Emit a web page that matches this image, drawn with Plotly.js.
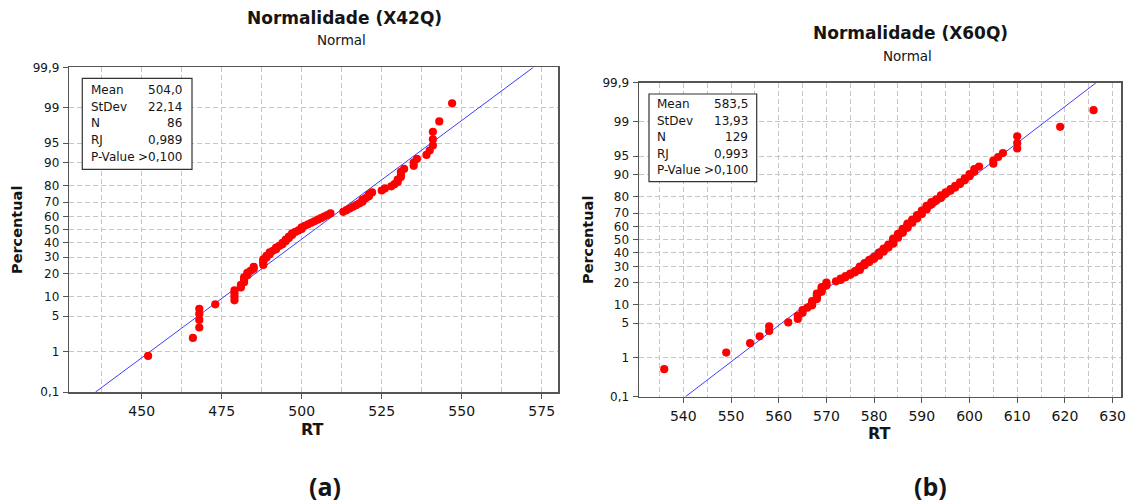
<!DOCTYPE html>
<html>
<head>
<meta charset="utf-8">
<script src="https://cdn.plot.ly/plotly-3.0.1.min.js"></script>
<style>
  html, body { margin: 0; padding: 0; background: #ffffff; }
  #chart { width: 1129px; height: 502px; }
</style>
</head>
<body>
<div id="chart"></div>
<script>
// Sorted RT samples for the two normal probability plots
const RT_X42Q = [
  452, 466, 468, 468, 468, 468, 473, 479, 479, 479,
  479, 481, 481, 482, 482, 482, 483, 483, 484, 485,
  485, 488, 488, 488, 488, 489, 489, 490, 490, 491,
  492, 492, 493, 494, 494, 495, 495, 496, 496, 497,
  497, 498, 499, 500, 500, 501, 502, 503, 504, 505,
  506, 507, 508, 509, 513, 514, 515, 516, 517, 518,
  519, 519, 520, 521, 521, 522, 525, 526, 528, 529,
  530, 530, 531, 531, 531, 532, 535, 535, 536, 539,
  540, 541, 541, 541, 543, 547
];
const RT_X60Q = [
  536, 549, 554, 556, 558, 558, 562, 564, 564, 565,
  565, 566, 567, 567, 567, 568, 568, 568, 568, 569,
  569, 569, 569, 570, 570, 570, 572, 573, 573, 574,
  574, 575, 575, 576, 576, 577, 577, 577, 577, 578,
  578, 578, 579, 579, 579, 580, 580, 580, 581, 581,
  581, 581, 582, 582, 582, 582, 583, 583, 583, 583,
  584, 584, 584, 584, 584, 584, 585, 585, 585, 585,
  585, 586, 586, 586, 586, 586, 587, 587, 587, 587,
  587, 588, 588, 588, 588, 589, 589, 589, 589, 590,
  590, 590, 590, 591, 591, 591, 591, 592, 592, 592,
  593, 593, 594, 594, 594, 595, 595, 596, 596, 597,
  597, 598, 598, 599, 599, 600, 600, 601, 601, 602,
  605, 605, 606, 607, 610, 610, 610, 619, 626
];

// Fitted normal parameters (line drawn through mean + z * sd)
const FIT_MEAN = [504.0, 583.5];
const FIT_SD = [22.14, 13.93];

// Summary box contents
const SUMMARY_LABELS = ['Mean', 'StDev', 'N', 'RJ', 'P-Value'];
const SUMMARY_X42Q = ['504,0', '22,14', '86', '0,989', '>0,100'];
const SUMMARY_X60Q = ['583,5', '13,93', '129', '0,993', '>0,100'];

// Probability-scale ticks (percent)
const PCT_TICKS = [0.1, 1, 5, 10, 20, 30, 40, 50, 60, 70, 80, 90, 95, 99, 99.9];
const PCT_LABELS = ['0,1', '1', '5', '10', '20', '30', '40', '50', '60', '70', '80', '90', '95', '99', '99,9'];

const TITLES = ['Normalidade (X42Q)', 'Normalidade (X60Q)'];
const SUBTITLE = 'Normal';
const PANEL_TAGS = ['(a)', '(b)'];

// Inverse standard normal CDF (Acklam's rational approximation)
function probit(p) {
  const a = [-3.969683028665376e+01, 2.209460984245205e+02, -2.759285104469687e+02,
             1.383577518672690e+02, -3.066479806614716e+01, 2.506628277459239e+00];
  const b = [-5.447609879822406e+01, 1.615858368580409e+02, -1.556989798598866e+02,
             6.680131188771972e+01, -1.328068155288572e+01];
  const c = [-7.784894002430293e-03, -3.223964580411365e-01, -2.400758277161838e+00,
             -2.549732539343734e+00, 4.374664141464968e+00, 2.938163982698783e+00];
  const d = [7.784695709041462e-03, 3.224671290700398e-01, 2.445134137142996e+00,
             3.754408661907416e+00];
  const pl = 0.02425, ph = 1 - pl;
  let q, r;
  if (p < pl) {
    q = Math.sqrt(-2 * Math.log(p));
    return (((((c[0]*q + c[1])*q + c[2])*q + c[3])*q + c[4])*q + c[5]) /
           ((((d[0]*q + d[1])*q + d[2])*q + d[3])*q + 1);
  }
  if (p <= ph) {
    q = p - 0.5; r = q * q;
    return (((((a[0]*r + a[1])*r + a[2])*r + a[3])*r + a[4])*r + a[5]) * q /
           (((((b[0]*r + b[1])*r + b[2])*r + b[3])*r + b[4])*r + 1);
  }
  q = Math.sqrt(-2 * Math.log(1 - p));
  return -(((((c[0]*q + c[1])*q + c[2])*q + c[3])*q + c[4])*q + c[5]) /
          ((((d[0]*q + d[1])*q + d[2])*q + d[3])*q + 1);
}

// Median-rank plotting positions (Benard), expressed as normal scores
function plotScores(n) {
  const out = [];
  for (let i = 1; i <= n; i++) out.push(probit((i - 0.3) / (n + 0.4)));
  return out;
}

const W = 1129, H = 502;
const fx = v => v / W;
const fy = v => 1 - v / H;

const Z_LO = probit(0.001), Z_HI = probit(0.999);
const FONT = 'DejaVu Sans, Verdana, sans-serif';
const TEXT = '#151515';
const GRID = '#c6c6c6';
const FRAME = '#555555';
const DASH = '5px,3px';

const panels = [
  { data: RT_X42Q, xa: 'x', ya: 'y', box: [69.3, 558, 67.3, 392], xr: [427.375, 580.1], dt: 25, mdt: 12.5,
    title: [344, 18], sub: [341, 40], ylab: [17, 230], xlab: [312, 429], tag: [325, 486],
    legend: [82.3, 192, 78.3, 169.3], rows: [90, 106.7, 123.3, 140, 157.3], cols: [88.5, 184], summary: SUMMARY_X42Q },
  { data: RT_X60Q, xa: 'x2', ya: 'y2', box: [639, 1121.3, 82.7, 396.7], xr: [530.71, 631.82], dt: 10, mdt: 5,
    title: [910, 33.5], sub: [907, 55.5], ylab: [588, 240], xlab: [879, 433], tag: [930, 486],
    legend: [649, 756.7, 94, 181.7], rows: [104.3, 120.7, 137.3, 154, 170.3], cols: [655, 749.5], summary: SUMMARY_X60Q }
];

const traces = [];
const annotations = [];
const shapes = [];
const layout = {
  width: W, height: H,
  margin: { l: 0, r: 0, t: 0, b: 0 },
  paper_bgcolor: '#ffffff', plot_bgcolor: '#ffffff',
  showlegend: false,
  font: { family: FONT, color: TEXT }
};

panels.forEach((p, k) => {
  const n = p.data.length;
  traces.push({
    type: 'scatter', mode: 'lines', xaxis: p.xa, yaxis: p.ya,
    x: [FIT_MEAN[k] + Z_LO * FIT_SD[k], FIT_MEAN[k] + Z_HI * FIT_SD[k]],
    y: [Z_LO, Z_HI],
    line: { color: '#3d3dff', width: 1 },
    hoverinfo: 'skip', cliponaxis: true
  });
  traces.push({
    type: 'scatter', mode: 'markers', xaxis: p.xa, yaxis: p.ya,
    x: p.data, y: plotScores(n),
    marker: { color: '#ff0000', size: 8.2, line: { width: 0 } },
    cliponaxis: true
  });

  const xKey = k === 0 ? 'xaxis' : 'xaxis2';
  const yKey = k === 0 ? 'yaxis' : 'yaxis2';
  layout[xKey] = {
    domain: [fx(p.box[0]), fx(p.box[1])],
    anchor: p.ya, range: p.xr, tick0: 0, dtick: p.dt,
    showgrid: true, gridcolor: GRID, griddash: DASH, gridwidth: 1,
    minor: { tick0: 0, dtick: p.mdt, showgrid: true, gridcolor: GRID, griddash: DASH, gridwidth: 1, ticks: '' },
    zeroline: false, showline: true, mirror: true, linecolor: FRAME, linewidth: 1.5,
    ticks: 'outside', ticklen: 5, tickcolor: FRAME, tickwidth: 1,
    tickfont: { family: FONT, size: 14, color: TEXT }, ticklabelstandoff: 1
  };
  layout[yKey] = {
    domain: [fy(p.box[3]), fy(p.box[2])],
    anchor: p.xa, range: [Z_LO, Z_HI],
    tickmode: 'array', tickvals: PCT_TICKS.map(v => probit(v / 100)), ticktext: PCT_LABELS,
    showgrid: true, gridcolor: GRID, griddash: DASH, gridwidth: 1,
    zeroline: false, showline: true, mirror: true, linecolor: FRAME, linewidth: 1.5,
    ticks: 'outside', ticklen: 5, tickcolor: FRAME, tickwidth: 1,
    tickfont: { family: FONT, size: 12, color: TEXT }, ticklabelstandoff: 1
  };

  const note = (x, y, text, size, extra) => annotations.push(Object.assign({
    xref: 'paper', yref: 'paper', x: fx(x), y: fy(y), text: text, showarrow: false,
    xanchor: 'center', yanchor: 'middle', font: { family: FONT, size: size, color: TEXT }
  }, extra || {}));

  note(p.title[0], p.title[1], '<b>' + TITLES[k] + '</b>', 17);
  note(p.sub[0], p.sub[1], SUBTITLE, 13.5);
  note(p.ylab[0], p.ylab[1], '<b>Percentual</b>', 14.5, { textangle: -90 });
  note(p.xlab[0], p.xlab[1], '<b>RT</b>', 16);
  note(p.tag[0], p.tag[1], '<b>' + PANEL_TAGS[k] + '</b>', 25, { font: { family: 'Open Sans, DejaVu Sans, sans-serif', size: 25, color: TEXT } });

  shapes.push({
    type: 'rect', xref: 'paper', yref: 'paper', layer: 'above',
    x0: fx(p.legend[0]), x1: fx(p.legend[1]), y0: fy(p.legend[3]), y1: fy(p.legend[2]),
    line: { color: '#333333', width: 1.2 }, fillcolor: '#ffffff'
  });
  SUMMARY_LABELS.forEach((lab, j) => {
    note(p.cols[0], p.rows[j], lab, 12, { xanchor: 'left' });
    note(p.cols[1], p.rows[j], p.summary[j], 12, { xanchor: 'right' });
  });
});

layout.annotations = annotations;
layout.shapes = shapes;

Plotly.newPlot('chart', traces, layout, { staticPlot: true, displayModeBar: false });
</script>
</body>
</html>
